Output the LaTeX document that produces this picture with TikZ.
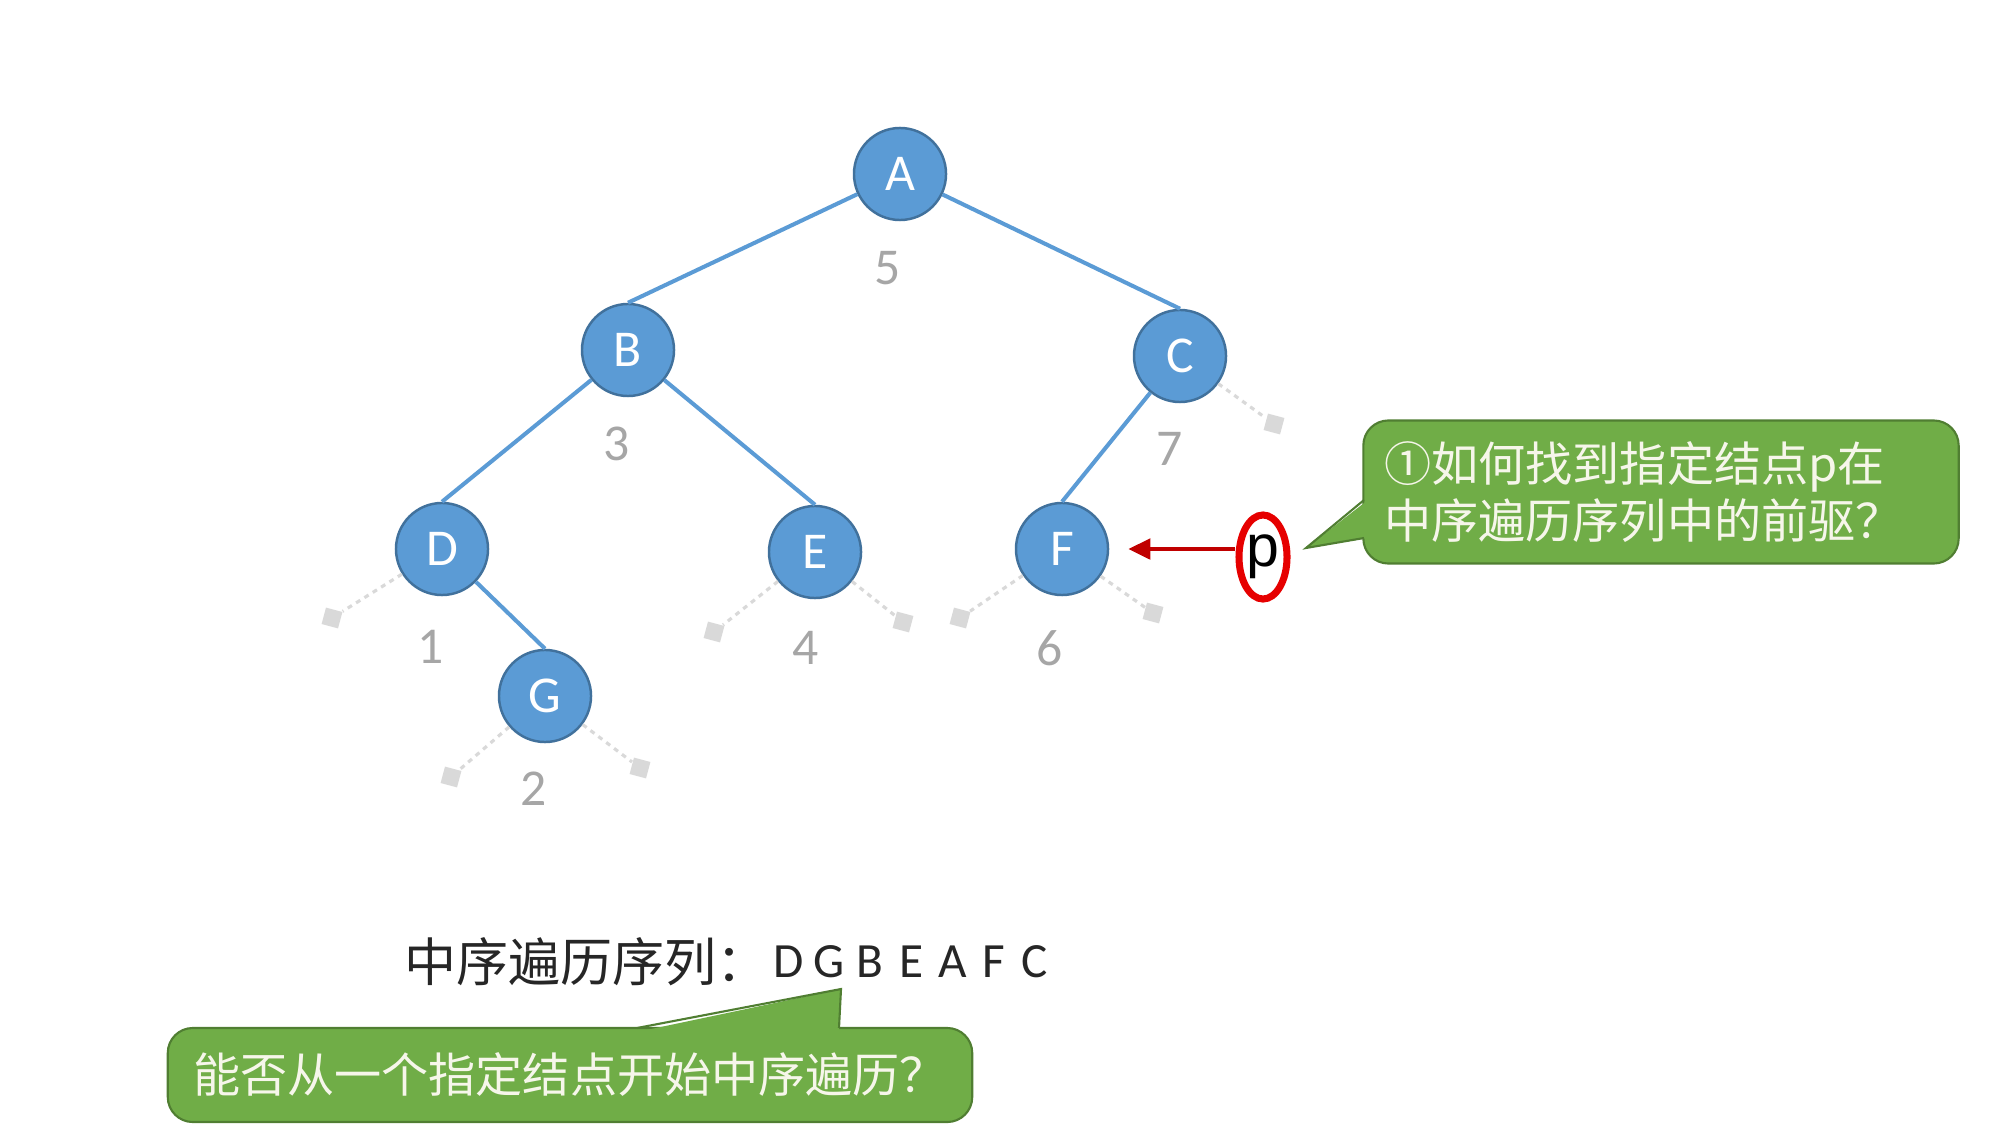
\documentclass[tikz,border=0pt]{standalone}
\usepackage{fontspec}
\setmainfont{Carlito}
\newfontfamily\cjk{Noto Sans CJK SC}
\newfontfamily\arialf{Liberation Sans}
\usetikzlibrary{arrows.meta,shapes.geometric}
\definecolor{nodeblue}{HTML}{5B9BD5}
\definecolor{nodeborder}{HTML}{41719C}
\definecolor{edgeblue}{HTML}{5B9BD5}
\definecolor{leafgray}{HTML}{D9D9D9}
\definecolor{labelgray}{HTML}{A6A6A6}
\definecolor{callgreen}{HTML}{70AD47}
\definecolor{callborder}{HTML}{507E32}
\definecolor{darkred}{HTML}{C00000}
\definecolor{ovalred}{HTML}{E60000}
\definecolor{cream}{HTML}{F6F6EA}
\begin{document}
\begin{tikzpicture}[x=0.01cm,y=-0.01cm,
  treenode/.style={circle, fill=nodeblue, draw=nodeborder, line width=0.7pt,
    minimum size=0.92cm, inner sep=0pt, text=white,
    font=\fontsize{14.7}{14.7}\selectfont},
  treeedge/.style={draw=edgeblue, line width=1.15pt},
  nullleaf/.style={rectangle, fill=leafgray, minimum size=0.17cm, inner sep=0pt},
  nulledge/.style={draw=leafgray, line width=0.9pt, dash pattern=on 1.4pt off 1.4pt},
  idx/.style={text=labelgray, font=\fontsize{14.7}{14.7}\selectfont, inner sep=0pt},
  callbox/.style={rectangle, rounded corners=0.25cm, fill=callgreen, draw=callborder,
    line width=0.6pt, text=cream},
  calltext/.style={font=\cjk\fontsize{13.4}{16}\selectfont},
  ptr/.style={draw=darkred, line width=1.4pt, -{Triangle[length=0.22cm,width=0.2cm]}}
]
\useasboundingbox (0,0) rectangle (2010,1146);

% tree nodes
\node[treenode] (A) at (900,174) {A};
\node[treenode] (B) at (628,350) {B};
\node[treenode] (C) at (1180,356) {C};
\node[treenode] (D) at (442,549) {D};
\node[treenode] (E) at (815,552) {E};
\node[treenode] (F) at (1062,549) {F};
\node[treenode] (G) at (545,696) {G};

% tree edges
\draw[treeedge] (A) -- (B.north);
\draw[treeedge] (A) -- (C.north);
\draw[treeedge] (B) -- (D.north);
\draw[treeedge] (B) -- (E.north);
\draw[treeedge] (C) -- (F.north);
\draw[treeedge] (D) -- (G.north);

% null leaves
\node[nullleaf, rotate=-15] (Cr) at (1274,424) {};
\node[nullleaf, rotate=-15] (Dl) at (332,618) {};
\node[nullleaf, rotate=-15] (El) at (714,632) {};
\node[nullleaf, rotate=-15] (Er) at (903,622) {};
\node[nullleaf, rotate=-15] (Fl) at (960,618) {};
\node[nullleaf, rotate=-15] (Fr) at (1153,613) {};
\node[nullleaf, rotate=-15] (Gl) at (451,777) {};
\node[nullleaf, rotate=-15] (Gr) at (640,768) {};
\draw[nulledge] (C) -- (Cr);
\draw[nulledge] (D) -- (Dl);
\draw[nulledge] (E) -- (El);
\draw[nulledge] (E) -- (Er);
\draw[nulledge] (F) -- (Fl);
\draw[nulledge] (F) -- (Fr);
\draw[nulledge] (G) -- (Gl);
\draw[nulledge] (G) -- (Gr);

% in-order indices
\node[idx] (n5) at (888,268) {5};
\node[idx] (n3) at (617,444) {3};
\node[idx] (n7) at (1170,449) {7};
\node[idx] (n1) at (431,647) {1};
\node[idx] (n4) at (806,648) {4};
\node[idx] (n6) at (1050,648) {6};
\node[idx] (n2) at (534,789) {2};

% pointer p
\node[ellipse, draw=ovalred, line width=2pt, fill=white, minimum width=0.48cm,
  minimum height=0.84cm, inner sep=0pt, font=\arialf\fontsize{16.8}{16.8}\selectfont,
  text=black] (pov) at (1263,557) {p};
\draw[ptr, shorten >=0.19cm] (pov.west |- F.center) -- (F.east);

% callout 1
\node[callbox, calltext, minimum width=5.95cm, minimum height=1.43cm,
  text width=5.53cm, inner xsep=0.21cm, align=left] (q1) at (1661,492)
  {①如何找到指定结点p在\\中序遍历序列中的前驱？};
\coordinate (t1a) at (1364,500);
\coordinate (t1tip) at (1306,548);
\coordinate (t1b) at (1364,538);
\fill[callgreen] (1368,500) -- (t1tip) -- (1368,538) -- cycle;
\draw[callborder, line width=0.6pt] (t1a) -- (t1tip) -- (t1b);

% in-order sequence
\node[anchor=west, inner sep=0pt, font=\cjk\fontsize{14.8}{14.8}\selectfont,
  text=black!85] (seqlabel) at (404,962) {中序遍历序列：};
\node[anchor=west, inner sep=0pt, font=\fontsize{14}{14}\selectfont, text=black!85]
  (seq) at (767,962)
  {\makebox[0.41cm]{D}\makebox[0.41cm]{G}\makebox[0.41cm]{B}\makebox[0.41cm]{E}\makebox[0.41cm]{A}\makebox[0.41cm]{F}\makebox[0.41cm]{C}};

% callout 2
\node[callbox, calltext, minimum width=8.04cm, minimum height=0.94cm] (q2)
  at (570,1075) {能否从一个指定结点开始中序遍历？};
\coordinate (t2a) at (637,1028);
\coordinate (t2tip) at (841,989);
\coordinate (t2b) at (839,1028);
\fill[callgreen] (637,1032) -- (t2tip) -- (839,1032) -- cycle;
\draw[callborder, line width=0.6pt] (t2a) -- (t2tip) -- (t2b);
\end{tikzpicture}
\end{document}
